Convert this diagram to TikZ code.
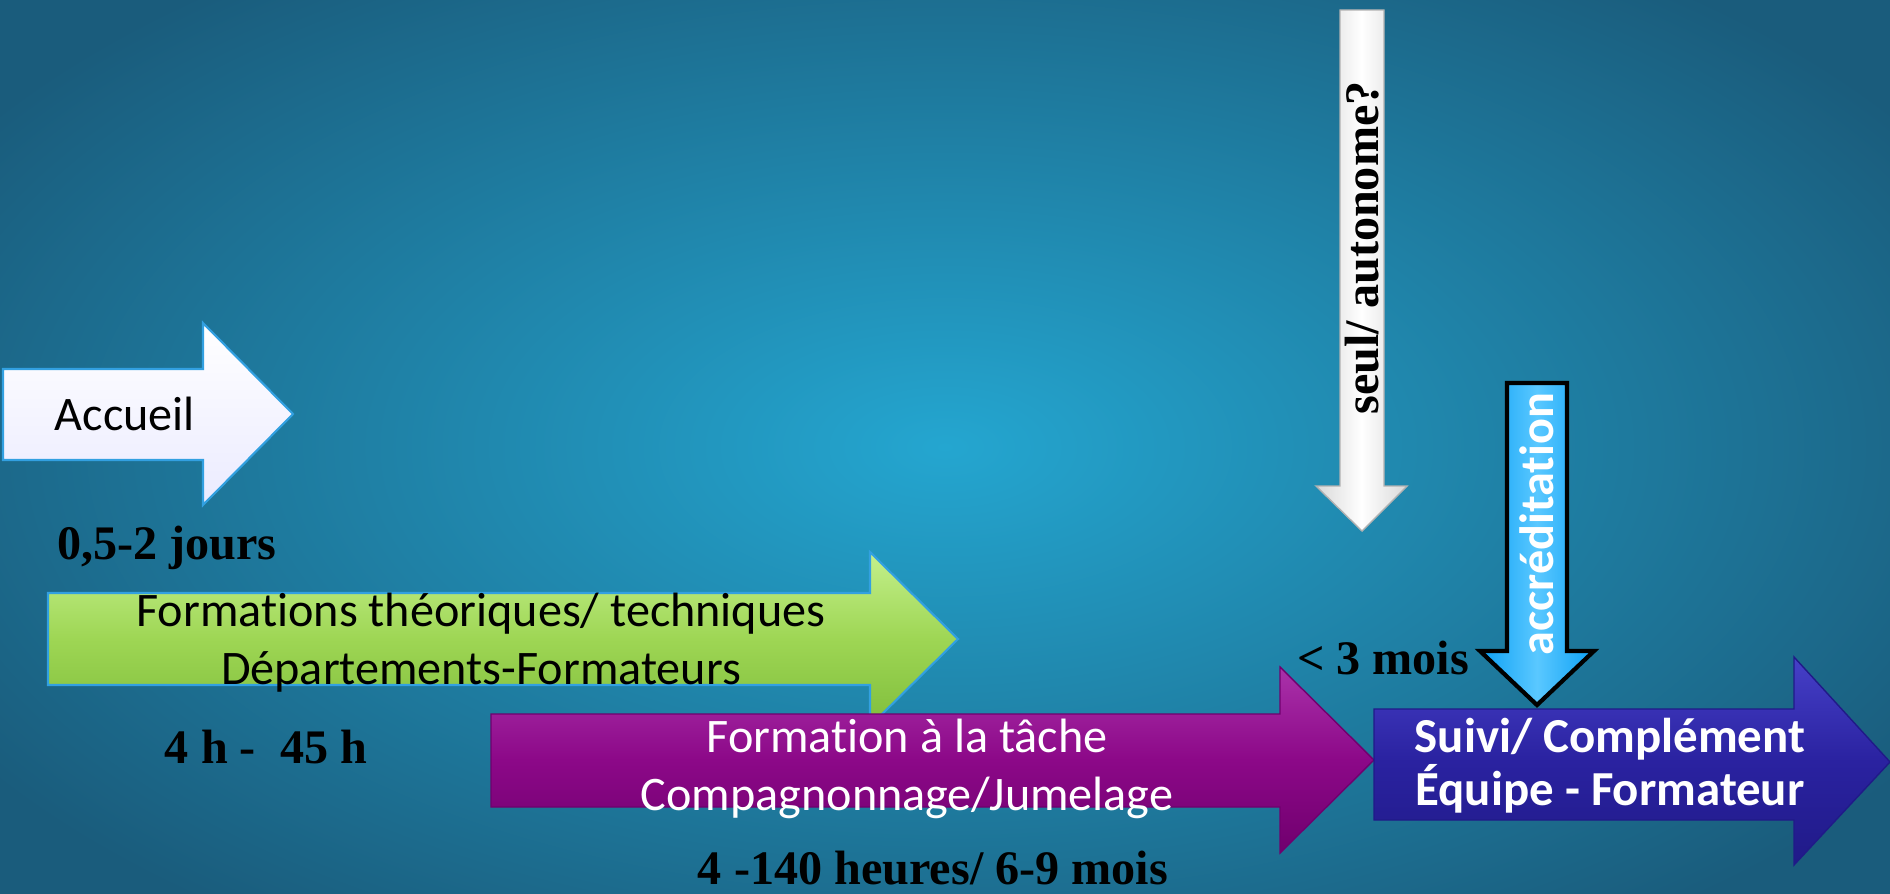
\documentclass[tikz,border=0pt]{standalone}
\usepackage{fontspec}
\setmainfont{Liberation Serif}
\newfontfamily\calfont[Ligatures={NoCommon}, RawFeature=-calt]{Carlito}
\usepackage{xcolor}
\usetikzlibrary{positioning}

\definecolor{bgmid}{RGB}{36,166,208}
\definecolor{bgedge}{RGB}{26,92,124}
\definecolor{greentop}{RGB}{196,240,140}
\definecolor{greenmid}{RGB}{158,214,84}
\definecolor{greenbot}{RGB}{128,190,60}
\definecolor{purptop}{RGB}{170,50,170}
\definecolor{purpmid}{RGB}{140,8,136}
\definecolor{purpbot}{RGB}{112,0,110}
\definecolor{suivtop}{RGB}{70,64,200}
\definecolor{suivmid}{RGB}{42,34,160}
\definecolor{suivbot}{RGB}{32,26,136}
\definecolor{accrtop}{RGB}{90,200,255}
\definecolor{accrmid}{RGB}{12,160,245}
\definecolor{edgeblue}{RGB}{50,160,225}
\newcommand\tiNoLig{t\kern0pt i}

\begin{document}
\begin{tikzpicture}[x=0.01cm, y=-0.01cm,
  lbl/.style={font=\calfont\fontsize{13.7}{16.5}\selectfont, align=center},
  dur/.style={font=\bfseries\fontsize{13.7}{16}\selectfont, text=black}]
\useasboundingbox (0,0) rectangle (1890,894);
\shade[inner color=bgmid, outer color=bgedge] (-200,-150) rectangle (2090,1044);

% horizontal arrows
\draw[draw=edgeblue, line width=0.6pt, top color=white, bottom color=blue!8]
  (3,369) -- (203,369) -- (203,323) -- (293,414) -- (203,505) -- (203,460) -- (3,460) -- cycle;
\draw[draw=edgeblue, line width=0.6pt, top color=greentop, bottom color=greenbot, middle color=greenmid]
  (48,593) -- (870,593) -- (870,552) -- (958,639) -- (870,726) -- (870,685) -- (48,685) -- cycle;
\draw[draw=purpbot, line width=0.4pt, top color=purptop, bottom color=purpbot, middle color=purpmid]
  (491,714) -- (1280,714) -- (1280,667) -- (1374,760) -- (1280,853) -- (1280,807) -- (491,807) -- cycle;
\draw[draw=suivbot, line width=0.4pt, top color=suivtop, bottom color=suivbot, middle color=suivmid]
  (1374,709) -- (1794,709) -- (1794,657) -- (1890,762) -- (1794,865) -- (1794,820) -- (1374,820) -- cycle;

% vertical arrows
\draw[draw=gray!60, line width=0.4pt, left color=gray!30, right color=gray!30, middle color=white]
  (1340,10) -- (1384,10) -- (1384,486) -- (1407,486) -- (1362,531) -- (1316,486) -- (1340,486) -- cycle;
\draw[draw=black, line width=1.2pt, left color=accrmid, right color=accrmid, middle color=accrtop]
  (1507,383) -- (1567,383) -- (1567,651) -- (1594,651) -- (1537,705) -- (1480,651) -- (1507,651) -- cycle;

% texts on arrows
\node[lbl] (accueil) at (125,414) {Accueil};
\node[lbl] (theorie) at (481,643) {Forma\tiNoLig ons théoriques/ techniques\\Départements-Formateurs};
\node[lbl, text=white] (tache) at (907,769) {Forma\tiNoLig on à la tâche\\Compagnonnage/Jumelage};
\node[lbl, text=white, font=\calfont\bfseries\fontsize{13.9}{15}\selectfont] (suivi) at (1610,766) {Suivi/ Complément\\Équipe - Formateur};
\node[lbl, text=white, font=\calfont\bfseries\fontsize{13.7}{16}\selectfont, rotate=90] (accred) at (1537,524) {accrédita\tiNoLig on};
\node[dur, rotate=90] (seul) at (1362,248) {seul/ autonome?};

% durations
\node[dur] (jours) at (167,548) {0,5-2 jours};
\node[dur] (heures) at (266,747) {4 h -~ 45 h};
\node[dur] (mois) at (933,868) {4 -140 heures/ 6-9 mois};
\node[dur] (trois) at (1383,658) {< 3 mois};
\end{tikzpicture}
\end{document}
